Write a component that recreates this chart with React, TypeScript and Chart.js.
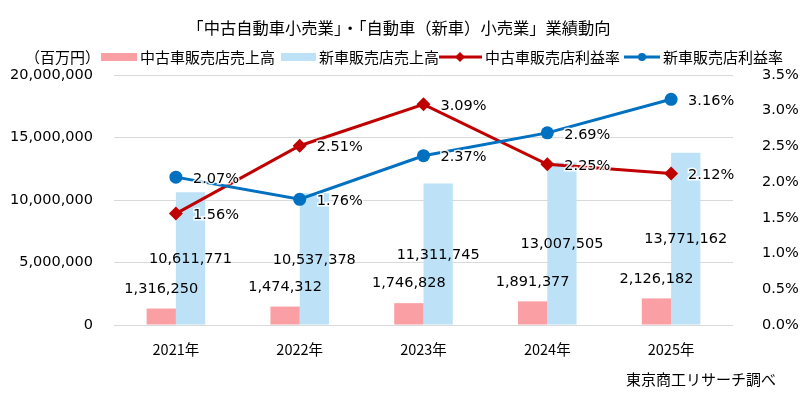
import React, { useEffect, useRef } from "react";
import { Chart, registerables } from "chart.js";

Chart.register(...registerables);

const categories = ["2021年", "2022年", "2023年", "2024年", "2025年"];
const usedSales = [1316250, 1474312, 1746828, 1891377, 2126182];
const newSales = [10611771, 10537378, 11311745, 13007505, 13771162];
const usedMargin = [1.56, 2.51, 3.09, 2.25, 2.12];
const newMargin = [2.07, 1.76, 2.37, 2.69, 3.16];

const seriesNames = ["中古車販売店売上高", "新車販売店売上高", "中古車販売店利益率", "新車販売店利益率"];
const titleText = "「中古自動車小売業」・「自動車（新車）小売業」業績動向";
const unitText = "（百万円）";
const sourceText = "東京商工リサーチ調べ";

const PINK = "#FA9FA3";
const LIGHTBLUE = "#BDE2F7";
const RED = "#C00000";
const BLUE = "#0070C0";
const CJK = '"Noto Sans CJK JP", sans-serif';
const NUM = '"DejaVu Sans", Verdana, sans-serif';

const fmt = (v: number) => v.toLocaleString("en-US");

const decorPlugin = {
  id: "decor",
  afterDatasetsDraw(chart: any) {
    const ctx = chart.ctx;
    ctx.save();
    ctx.font = `14.5px ${NUM}`;
    ctx.fillStyle = "#000";
    ctx.textAlign = "center";
    ctx.textBaseline = "middle";
    const m0 = chart.getDatasetMeta(0);
    m0.data.forEach((el: any, i: number) => {
      ctx.fillText(fmt(usedSales[i]), el.x, el.y - 19.5);
    });
    const m1 = chart.getDatasetMeta(1);
    m1.data.forEach((el: any, i: number) => {
      ctx.fillText(fmt(newSales[i]), el.x, (el.y + el.base) / 2 + 1);
    });
    ctx.textAlign = "left";
    [2, 3].forEach((d) => {
      const arr = d === 2 ? usedMargin : newMargin;
      chart.getDatasetMeta(d).data.forEach((el: any, i: number) => {
        const t = arr[i].toFixed(2) + "%";
        ctx.lineWidth = 3;
        ctx.strokeStyle = "rgba(255,255,255,0.85)";
        ctx.strokeText(t, el.x + 17, el.y + 2);
        ctx.fillText(t, el.x + 17, el.y + 2);
      });
    });
    ctx.restore();
  },
  afterDraw(chart: any) {
    const ctx = chart.ctx;
    ctx.save();
    ctx.fillStyle = "#000";
    ctx.textBaseline = "middle";
    ctx.font = `16.3px ${CJK}`;
    ctx.textAlign = "center";
    ctx.fillText(titleText, 399, 28);
    ctx.font = `15px ${CJK}`;
    ctx.textAlign = "left";
    ctx.fillText(unitText, 25, 57);
    const ly = 57;
    ctx.fillStyle = PINK;
    ctx.fillRect(101, ly - 4, 36, 8);
    ctx.fillStyle = "#000";
    ctx.fillText(seriesNames[0], 140, ly);
    ctx.fillStyle = LIGHTBLUE;
    ctx.fillRect(281, ly - 4, 35, 8);
    ctx.fillStyle = "#000";
    ctx.fillText(seriesNames[1], 319, ly);
    ctx.strokeStyle = RED;
    ctx.lineWidth = 3;
    ctx.beginPath();
    ctx.moveTo(439, ly);
    ctx.lineTo(482, ly);
    ctx.stroke();
    ctx.fillStyle = RED;
    ctx.beginPath();
    ctx.moveTo(460, ly - 5);
    ctx.lineTo(465, ly);
    ctx.lineTo(460, ly + 5);
    ctx.lineTo(455, ly);
    ctx.closePath();
    ctx.fill();
    ctx.fillStyle = "#000";
    ctx.fillText(seriesNames[2], 485, ly);
    ctx.strokeStyle = BLUE;
    ctx.beginPath();
    ctx.moveTo(624, ly);
    ctx.lineTo(660, ly);
    ctx.stroke();
    ctx.fillStyle = BLUE;
    ctx.beginPath();
    ctx.arc(642, ly, 4, 0, Math.PI * 2);
    ctx.fill();
    ctx.fillStyle = "#000";
    ctx.fillText(seriesNames[3], 663, ly);
    ctx.textAlign = "right";
    ctx.fillText(sourceText, 776, 379);
    ctx.restore();
  },
};

export default function App() {
  const ref = useRef<HTMLCanvasElement | null>(null);
  useEffect(() => {
    document.body.style.margin = "0";
    if (!ref.current) return;
    const chart = new Chart(ref.current, {
      type: "bar",
      data: {
        labels: categories,
        datasets: [
          {
            type: "bar",
            label: seriesNames[0],
            data: usedSales,
            backgroundColor: PINK,
            yAxisID: "y",
            order: 2,
            categoryPercentage: 0.473,
            barPercentage: 1,
          },
          {
            type: "bar",
            label: seriesNames[1],
            data: newSales,
            backgroundColor: LIGHTBLUE,
            yAxisID: "y",
            order: 2,
            categoryPercentage: 0.473,
            barPercentage: 1,
          },
          {
            type: "line",
            label: seriesNames[2],
            data: usedMargin,
            borderColor: RED,
            backgroundColor: RED,
            borderWidth: 3,
            pointStyle: "rectRot",
            pointRadius: 7,
            pointBorderWidth: 0,
            yAxisID: "y1",
            order: 1,
          } as any,
          {
            type: "line",
            label: seriesNames[3],
            data: newMargin,
            borderColor: BLUE,
            backgroundColor: BLUE,
            borderWidth: 3,
            pointStyle: "circle",
            pointRadius: 6.5,
            pointBorderWidth: 0,
            yAxisID: "y1",
            order: 0,
          } as any,
        ],
      },
      options: {
        responsive: false,
        animation: false,
        layout: { padding: { top: 75, left: 0, right: 0, bottom: 0 } },
        plugins: { legend: { display: false }, tooltip: { enabled: false }, title: { display: false } },
        scales: {
          x: {
            grid: { display: false, drawTicks: false },
            border: { display: false },
            ticks: { color: "#000", font: { family: CJK, size: 14.5 }, padding: 16 },
            afterFit: (s: any) => {
              s.height = 72;
            },
          },
          y: {
            position: "left",
            min: 0,
            max: 20000000,
            ticks: {
              stepSize: 5000000,
              color: "#000",
              font: { family: NUM, size: 14.5 },
              padding: 21,
              callback: (v: any) => fmt(Number(v)),
            },
            grid: { color: "#D9D9D9", lineWidth: 1, drawTicks: false },
            border: { display: false },
            afterFit: (s: any) => {
              s.width = 114;
            },
          },
          y1: {
            position: "right",
            min: 0,
            max: 3.5,
            ticks: {
              stepSize: 0.5,
              color: "#000",
              font: { family: NUM, size: 14.5 },
              padding: 29,
              callback: (v: any) => Number(v).toFixed(1) + "%",
            },
            grid: { display: false, drawTicks: false },
            border: { display: false },
            afterFit: (s: any) => {
              s.width = 67;
            },
          },
        },
      },
      plugins: [decorPlugin],
    });
    return () => chart.destroy();
  }, []);
  return (
    <div style={{ width: 800, height: 397, background: "#fff" }}>
      <canvas ref={ref} width={800} height={397} style={{ display: "block" }} />
    </div>
  );
}
